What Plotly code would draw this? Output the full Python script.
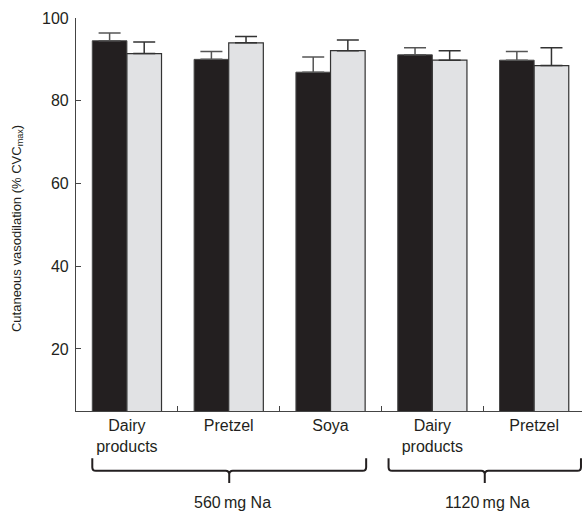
import plotly.graph_objects as go

categories = ["Dairy<br>products", "Pretzel", "Soya", "Dairy<br>products", "Pretzel"]
black_vals = [94.5, 90.0, 86.9, 91.1, 89.8]
black_err = [1.9, 1.9, 3.7, 1.7, 2.1]
grey_vals = [91.4, 94.0, 92.1, 89.8, 88.5]
grey_err = [2.8, 1.5, 2.6, 2.3, 4.3]
y_ticks = [20, 40, 60, 80, 100]
group_labels = ["560\u2009mg Na", "1120\u2009mg Na"]
y_title = "Cutaneous vasodilation (% CVC<sub>max</sub>)"
brace_start = [-0.34, 2.57]
brace_end = [2.35, 4.46]

x = list(range(len(categories)))
FONT = "Liberation Sans, Arial, sans-serif"
TXT = "#231f20"

fig = go.Figure()
fig.add_trace(go.Bar(
    x=x, y=black_vals, marker=dict(color="#231f20", line=dict(color="#4a4a4a", width=1)),
    error_y=dict(type="data", array=black_err, arrayminus=[0]*5, symmetric=False,
                 color="#555555", thickness=1.5, width=11),
    showlegend=False))
fig.add_trace(go.Bar(
    x=x, y=grey_vals, marker=dict(color="#e1e2e4", line=dict(color="#333333", width=1.2)),
    error_y=dict(type="data", array=grey_err, arrayminus=[0]*5, symmetric=False,
                 color="#333333", thickness=1.5, width=11),
    showlegend=False))

shapes = []
yt, yh, ys = -0.12, -0.152, -0.183
rx, ry = 0.035, 0.009
for a, b in zip(brace_start, brace_end):
    m = (a + b) / 2
    path = (f"M {a},{yt} L {a},{yh+ry} Q {a},{yh} {a+rx},{yh} L {m-rx},{yh} "
            f"Q {m},{yh} {m},{yh-ry} L {m},{ys} M {m},{yh-ry} Q {m},{yh} {m+rx},{yh} "
            f"L {b-rx},{yh} Q {b},{yh} {b},{yh+ry} L {b},{yt}")
    shapes.append(dict(type="path", path=path, xref="x", yref="paper",
                       line=dict(color="#231f20", width=2)))

annotations = []
for lab, a, b in zip(group_labels, brace_start, brace_end):
    annotations.append(dict(x=(a + b) / 2 + 0.03, y=-0.234, xref="x", yref="paper",
                            text=lab, showarrow=False, yanchor="middle",
                            font=dict(size=16, family=FONT, color=TXT)))
annotations.append(dict(x=-0.117, y=0.465, xref="paper", yref="paper", text=y_title,
                        textangle=-90, showarrow=False, xanchor="center", yanchor="middle",
                        font=dict(size=13, family=FONT, color=TXT)))

fig.update_layout(
    width=587, height=511,
    margin=dict(l=76, r=5, t=18, b=100),
    plot_bgcolor="white", paper_bgcolor="white",
    barmode="group", bargap=0.32, bargroupgap=0,
    font=dict(family=FONT, size=16, color=TXT),
    shapes=shapes, annotations=annotations,
    xaxis=dict(range=[-0.5, 4.47], tickmode="array", tickvals=x, ticktext=categories,
               ticks="", showline=True, linecolor="#444444", linewidth=1.2,
               showgrid=False, zeroline=False,
               tickfont=dict(size=16, family=FONT, color=TXT),
               minor=dict(tickmode="array", tickvals=[0.5, 1.5, 2.5, 3.5],
                          ticks="inside", ticklen=5, tickcolor="#444444", tickwidth=1.2)),
    yaxis=dict(range=[5, 100], tickmode="array", tickvals=y_ticks, ticks="inside",
               ticklen=5, tickcolor="#444444", tickwidth=1.2,
               showline=True, linecolor="#444444", linewidth=1.2,
               showgrid=False, zeroline=False, ticklabelstandoff=3,
               tickfont=dict(size=16, family=FONT, color=TXT)),
)

fig.write_html("out.html", config={"displayModeBar": False},
               post_script="document.body.style.margin='0';document.body.style.overflow='hidden';")
